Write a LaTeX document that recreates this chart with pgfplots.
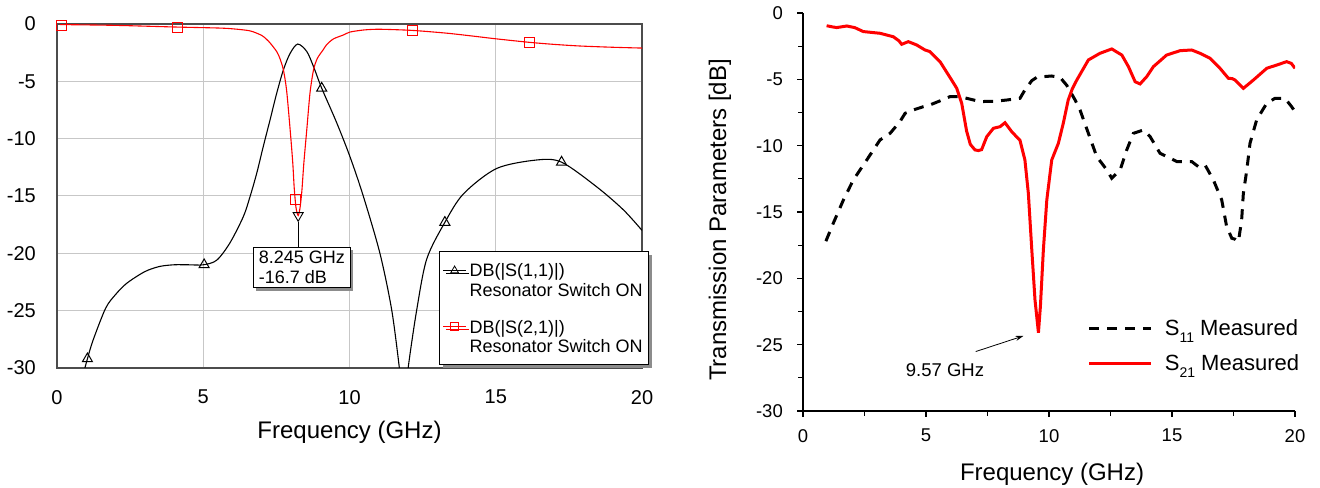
\documentclass[border=0pt]{standalone}
\usepackage{pgfplots}
\pgfplotsset{compat=1.18}
\usepackage{fontspec}
\setmainfont{Liberation Sans}
\usetikzlibrary{shadows,arrows.meta}
\begin{document}
\begin{tikzpicture}[x=1bp,y=1bp]
\useasboundingbox (0,0) rectangle (1320,488);
% ---------------- left chart ----------------
\begin{axis}[
  at={(57bp,120bp)}, anchor=south west,
  scale only axis, width=585bp, height=344bp,
  xmin=0, xmax=20, ymin=-30, ymax=0,
  xtick={0,5,...,20}, ytick={-30,-25,...,0},
  grid=major, grid style={draw=black!22, line width=1bp},
  axis line style={draw=black!70, line width=1.2bp},
  major tick length=0pt,
  /pgf/number format/assume math mode=true,
  tick label style={font=\fontsize{20bp}{24bp}\selectfont, inner sep=0pt},
  yticklabel style={xshift=-21bp},
  xticklabel style={yshift=-22bp},
  xlabel={Frequency (GHz)},
  xlabel style={font=\fontsize{24bp}{28bp}\selectfont, at={(axis description cs:0.5,0)}, anchor=north, yshift=-53bp, inner sep=0pt},
  legend style={at={(axis cs:13.07,-19.83)}, anchor=north west, draw=black, fill=white, line width=0.8bp,
    drop shadow={shadow xshift=3bp, shadow yshift=-3bp, fill=black!45, opacity=1},
    font=\fontsize{18bp}{19.5bp}\selectfont, cells={anchor=west}, row sep=0bp,
    inner xsep=3bp, inner ysep=9.6bp, nodes={inner ysep=0pt, inner xsep=3bp}},
  legend image code/.code={\draw[mark repeat=2,mark phase=2,#1] plot coordinates {(0bp,0bp) (11.5bp,0bp) (23bp,0bp)};},
]
\addlegendimage{black, line width=0.8bp, mark=triangle, mark size=4.5bp, mark options={solid}}
\addlegendentry[text height=15.6bp, text depth=2.7bp]{DB(|S(1,1)|)}
\addlegendimage{empty legend}
\addlegendentry[text height=16.6bp, text depth=21.3bp]{Resonator Switch ON}
\addlegendimage{red, line width=0.8bp, mark=square, mark size=4bp, mark options={solid}}
\addlegendentry[text height=15.6bp, text depth=2.7bp]{DB(|S(2,1)|)}
\addlegendimage{empty legend}
\addlegendentry[text height=16.6bp, text depth=2.7bp]{Resonator Switch ON}

% S11 simulated
\addplot[black, line width=1.1bp, smooth, forget plot] coordinates {
(0.90,-30.5) (1.04,-29.2) (1.23,-27.6) (1.66,-24.8) (2.0,-23.6) (2.39,-22.6) (3.0,-21.6) (3.5,-21.15)
(4.0,-21.0) (4.5,-21.0) (5.0,-21.0) (5.46,-20.6) (5.91,-19.1) (6.37,-16.8) (6.6,-15.05) (6.83,-13.0)
(7.05,-10.7) (7.28,-8.4) (7.51,-6.05) (7.74,-4.0) (7.97,-2.56) (8.23,-1.75) (8.54,-2.4) (8.77,-3.72)
(9.05,-5.6) (9.56,-8.6) (10.02,-11.6) (10.47,-15.0) (11.04,-20.0) (11.44,-24.9) (11.7,-29.9) (11.8,-32.5)
};
\addplot[black, line width=1.1bp, smooth, forget plot] coordinates {
(11.92,-32.5) (12.01,-29.9) (12.3,-24.9) (12.64,-20.5) (13.26,-17.3) (13.9,-14.8) (15.03,-12.6)
(16.4,-11.86) (17.25,-12.05) (18.45,-14.2) (19.36,-16.2) (20.0,-18.0)
};
\addplot[black, only marks, mark=triangle, mark size=5.8bp, mark options={line width=1bp}, forget plot] coordinates {
(1.04,-29.2) (5.03,-21.0) (9.05,-5.6) (13.26,-17.3) (17.25,-12.05)
};
% S21 simulated
\addplot[red, line width=1.1bp, smooth, tension=0.45, forget plot] coordinates {
(0.1,-0.05) (2,-0.12) (4.13,-0.27) (5.5,-0.35) (6.0,-0.42) (6.6,-0.6) (7.0,-1.0) (7.17,-1.35)
(7.3,-1.7) (7.51,-2.4) (7.62,-3.0) (7.74,-4.0) (7.85,-5.8) (7.97,-9.2) (8.06,-12.1) (8.11,-14.3)
(8.17,-16.0) (8.245,-16.7) (8.31,-16.0) (8.37,-14.6) (8.44,-12.1) (8.54,-9.2) (8.65,-6.0)
(8.77,-4.0) (8.9,-3.0) (9.1,-2.25) (9.22,-1.8) (9.45,-1.3) (9.79,-0.96) (10.02,-0.7) (10.5,-0.52)
(11.04,-0.46) (12.15,-0.56) (13.32,-0.8) (14.2,-1.05) (15.03,-1.3) (16.15,-1.6) (17.0,-1.78)
(17.88,-1.92) (19.0,-2.03) (20.0,-2.1)
};
\addplot[red, only marks, mark=square, mark size=5bp, mark options={line width=1bp}, forget plot] coordinates {
(0.16,-0.17) (4.13,-0.27) (8.14,-15.3) (12.15,-0.56) (16.15,-1.6)
};
% marker
\addplot[black, only marks, mark=triangle, mark size=5.8bp, mark options={rotate=180, line width=0.9bp}, forget plot] coordinates {(8.245,-16.7)};
\draw[black, line width=0.8bp] (axis cs:8.245,-17.24) -- (axis cs:8.245,-19.42);
\node[draw=black, line width=0.8bp, fill=white,
  drop shadow={shadow xshift=3bp, shadow yshift=-3bp, fill=black!45, opacity=1},
  align=left, anchor=north west, inner xsep=5.5bp, inner ysep=4bp,
  font=\fontsize{18bp}{20bp}\selectfont] at (axis cs:6.70,-19.42) {8.245 GHz\\-16.7 dB};
\end{axis}

% ---------------- right chart ----------------
\begin{axis}[
  at={(803bp,77bp)}, anchor=south west,
  scale only axis, width=492bp, height=398bp,
  xmin=0, xmax=20, ymin=-30, ymax=0,
  axis x line=bottom, axis y line=left,
  axis line style={-, line width=1.3bp, black},
  xtick={0,5,...,20}, ytick={-30,-25,...,0},
  minor x tick num=1, minor y tick num=1,
  tick align=outside, major tick length=6bp, minor tick length=5bp,
  every tick/.style={black, line width=1.2bp},
  /pgf/number format/assume math mode=true,
  tick label style={font=\fontsize{18.5bp}{22bp}\selectfont, inner sep=0pt},
  yticklabel style={xshift=-14bp},
  xticklabel style={yshift=-12bp},
  xlabel={Frequency (GHz)},
  xlabel style={font=\fontsize{24bp}{28bp}\selectfont, at={(axis description cs:0.5,0)}, anchor=north, yshift=-52bp, xshift=3bp, inner sep=0pt},
  ylabel={Transmission Parameters [dB]},
  ylabel style={font=\fontsize{24bp}{28bp}\selectfont, at={(axis description cs:-0.146,0.48)}, anchor=south, inner sep=0pt},
  legend style={draw=none, fill=none, at={(axis cs:11.45,-22.83)}, anchor=north west,
    font=\fontsize{22bp}{26bp}\selectfont, cells={anchor=west}, row sep=13bp,
    /tikz/every odd column/.append style={column sep=10bp}},
  legend image code/.code={\draw[#1] (0bp,0bp) -- (62bp,0bp);},
]
\addplot[black, line width=3bp, dash pattern=on 10bp off 8bp] coordinates {
(0.93,-17.2) (1.23,-15.85) (1.64,-14.1) (2.04,-12.6) (2.59,-11.08) (3.13,-9.57) (3.54,-9.07)
(3.94,-8.19) (4.15,-7.56) (4.5,-7.3) (4.89,-7.06) (5.16,-6.93) (5.6,-6.6) (5.98,-6.3) (6.3,-6.3)
(6.65,-6.43) (7.2,-6.68) (7.8,-6.65) (8.28,-6.56) (8.82,-6.43) (9.02,-5.8) (9.3,-5.1) (9.5,-4.85)
(9.77,-4.8) (10.1,-4.75) (10.45,-4.85) (10.72,-5.45) (11.06,-6.56) (11.26,-7.31) (11.6,-9.07)
(11.94,-10.83) (12.35,-11.83) (12.55,-12.46) (12.89,-11.83) (13.16,-10.32) (13.43,-9.07)
(13.84,-8.82) (14.11,-9.32) (14.51,-10.57) (15.2,-11.2) (15.8,-11.2) (16.07,-11.58) (16.34,-11.45)
(16.68,-12.58) (17.02,-14.09) (17.22,-16.1) (17.43,-16.98) (17.56,-17.05) (17.7,-17.23)
(17.83,-15.6) (17.9,-13.59) (18.04,-11.83) (18.17,-9.82) (18.44,-8.06) (18.85,-6.8) (19.19,-6.43)
(19.59,-6.43) (19.86,-7.06) (19.95,-7.3)
};
\addlegendentry{S\raisebox{-7bp}{\fontsize{14bp}{14bp}\selectfont 11} Measured}
\addplot[red, line width=3bp] coordinates {
(0.96,-0.96) (1.2,-1.05) (1.37,-1.1) (1.78,-0.98) (2.1,-1.1) (2.45,-1.4) (3.13,-1.53) (3.67,-1.79)
(3.9,-2.1) (4.01,-2.36) (4.28,-2.16) (4.62,-2.41) (4.96,-2.79) (5.16,-2.91) (5.57,-3.67) (6.04,-5.05)
(6.25,-5.68) (6.45,-6.8) (6.65,-8.9) (6.8,-9.9) (6.99,-10.32) (7.13,-10.37) (7.26,-10.3) (7.47,-9.32)
(7.74,-8.69) (8.01,-8.57) (8.21,-8.27) (8.48,-8.94) (8.82,-9.6) (9.02,-11.08) (9.16,-13.6)
(9.3,-17.86) (9.43,-21.63) (9.57,-24.1) (9.65,-22.1) (9.77,-17.86) (9.91,-14.09) (10.11,-11.08)
(10.38,-9.82) (10.58,-8.31) (10.78,-6.56) (10.95,-5.7) (11.13,-5.05) (11.6,-3.54) (12.07,-3.04)
(12.55,-2.71) (12.96,-3.17) (13.23,-4.05) (13.5,-5.18) (13.7,-5.35) (13.97,-4.8) (14.24,-4.05)
(14.78,-3.17) (15.33,-2.84) (15.8,-2.79) (16.14,-3.04) (16.54,-3.41) (16.95,-4.17) (17.29,-4.92)
(17.45,-4.95) (17.56,-5.05) (17.9,-5.68) (18.31,-5.05) (18.85,-4.17) (19.26,-3.92) (19.66,-3.67)
(19.85,-3.8) (20.0,-4.17)
};
\addlegendentry{S\raisebox{-7bp}{\fontsize{14bp}{14bp}\selectfont 21} Measured}
\draw[-{Stealth[length=8bp,width=5bp]}, line width=0.8bp] (axis cs:7.02,-25.52) -- (axis cs:8.96,-24.34);
\node[font=\fontsize{18.5bp}{22bp}\selectfont] at (axis cs:5.77,-26.95) {9.57 GHz};
\end{axis}
\end{tikzpicture}
\end{document}
